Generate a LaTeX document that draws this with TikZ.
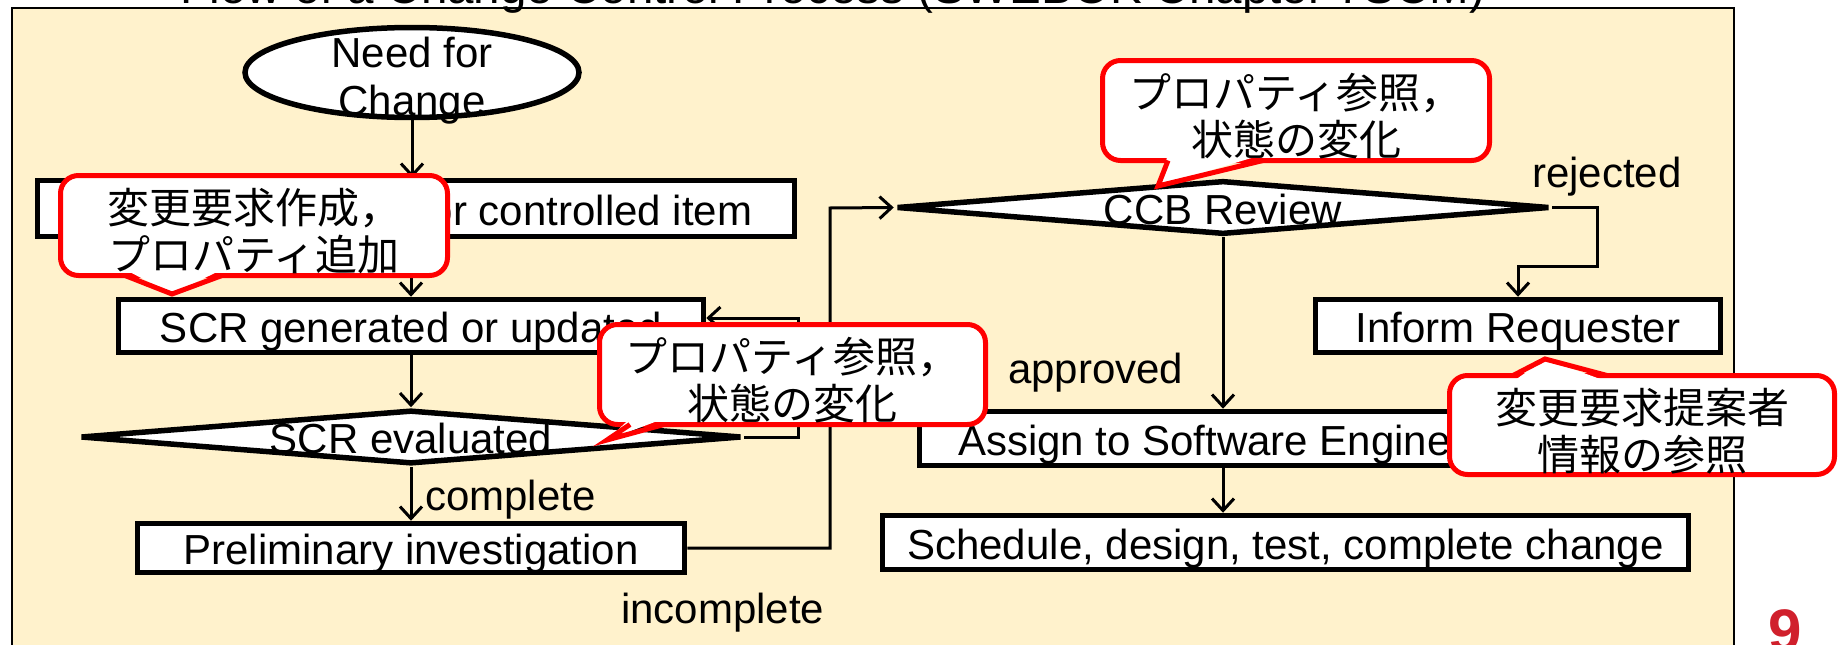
\documentclass[tikz,border=0pt]{standalone}
\usepackage{fontspec}
\setmainfont{Liberation Sans}
\newfontfamily\jpfont{Noto Sans CJK JP}
\usetikzlibrary{arrows.meta,shapes.geometric}
\definecolor{bgyel}{HTML}{FFF2CC}
\definecolor{pgred}{RGB}{208,32,44}
\definecolor{calred}{RGB}{255,0,0}
\newcommand{\myfs}[2]{\fontsize{#1}{#2}\selectfont}
\begin{document}
\begin{tikzpicture}[x=1pt,y=-1pt,
  box/.style={draw, line width=5.5pt, fill=white, inner sep=0pt, font=\myfs{42}{48}, text height=36pt, text depth=3pt},
  dia/.style={diamond, draw, line width=5.5pt, fill=white, inner sep=0pt},
  txt/.style={inner sep=0pt, font=\myfs{42}{48}, text height=36pt, text depth=3pt},
  lbl/.style={inner sep=0pt, font=\myfs{42}{48}},
  arr/.style={line width=3pt, -{Straight Barb[length=12pt,width=22pt]}},
  callout/.style={draw=calred, line width=5pt, fill=white, rounded corners=18pt, inner sep=0pt},
  caltext/.style={inner sep=0pt, align=center, font=\jpfont\myfs{42}{47}},
  wedgeline/.style={draw=calred, line width=5pt, line join=miter},
]
\useasboundingbox (0,0) rectangle (1839,645);
% frame
\draw[fill=bgyel, line width=2.5pt] (12,8) rectangle (1734,665);
\node[anchor=base, inner sep=0pt, font=\myfs{47.5}{50}] (title) at (833,4) {Flow of a Change Control Process (SWEBOK Chapter 7SCM)};
\node[anchor=base, inner sep=0pt, text=pgred, font=\bfseries\myfs{60}{60}] (pg) at (1785,651) {9};

% left column
\node[ellipse, draw, line width=5.5pt, fill=white, inner sep=0pt, minimum width=334pt, minimum height=90pt] (need) at (412,72.5) {};
\node[inner sep=0pt, align=center, font=\myfs{42}{48}] (needt) at (412,81) {Need for\\Change};
\node[box, minimum width=757pt, minimum height=56pt] (b1) at (416,208.5) {Change identified for controlled item};
\node[box, minimum width=585pt, minimum height=53pt] (b2) at (411,326) {SCR generated or updated};
\node[dia, minimum width=661pt, minimum height=54pt] (d1) at (411,437) {};
\node[txt] (d1t) at (d1) {SCR evaluated};
\node[box, minimum width=547pt, minimum height=49pt] (p1) at (411,548) {Preliminary investigation};

% right column
\node[dia, minimum width=653pt, minimum height=54pt] (ccb) at (1223,207.5) {};
\node[txt] (ccbt) at (ccb) {CCB Review};
\node[box, minimum width=405pt, minimum height=53pt] (inf) at (1518,326) {Inform Requester};
\node[box, minimum width=607pt, minimum height=54pt] (as) at (1223,438.5) {Assign to Software Engineer};
\node[box, minimum width=806pt, minimum height=54pt] (sc) at (1285.5,542.5) {Schedule, design, test, complete change};

% junctions
\coordinate (jA) at (830,208);
\coordinate (jB) at (798,318);
\coordinate (jC) at (1597,266);

% connectors
\draw[arr] (need.south) -- (need.south |- b1.north);
\draw[arr] (b1.south -| b2.north) -- (b2.north);
\draw[arr] (b2.south) -- (d1.north);
\draw[arr] (d1.south) -- (p1.north);
\draw[arr] (d1.east) -| (jB) -- ([yshift=8pt]b2.east);
\draw[arr] (p1.east) -| (jA) -- (ccb.west);
\draw[arr] (ccb.south) -- (as.north);
\draw[arr] (as.south) -- (as.south |- sc.north);
\draw[arr] (ccb.east) -| (jC) -| (inf.north);

% labels
\node[lbl, anchor=base west] (lcomp) at (425,510) {complete};
\node[lbl, anchor=base west] (linc) at (621,623) {incomplete};
\node[lbl, anchor=base west] (lapp) at (1008,383) {approved};
\node[lbl, anchor=base west] (lrej) at (1532,187) {rejected};

% callout 1
\node[callout, minimum width=387pt, minimum height=100pt] (c1) at (254,225.5) {};
\coordinate (c1a) at (125,275.5); \coordinate (c1b) at (222,275.5); \coordinate (c1t) at (172,294);
\fill[white] ([yshift=6pt]c1a) -- (c1t) -- ([yshift=6pt]c1b) -- cycle;
\draw[wedgeline] (c1a) -- (c1t) -- (c1b);
\node[caltext] (c1x) at ([yshift=-6pt]c1.center) {変更要求作成，\\プロパティ追加};

% callout 2
\node[callout, minimum width=386pt, minimum height=100pt] (c2) at (792.5,374.5) {};
\coordinate (c2a) at (630,424.5); \coordinate (c2b) at (664,424.5); \coordinate (c2t) at (607,440);
\fill[white] ([yshift=6pt]c2a) -- (c2t) -- ([yshift=6pt]c2b) -- cycle;
\draw[wedgeline] (c2b) -- (c2t) -- (c2a);
\node[caltext] (c2x) at ([yshift=-6pt]c2.center) {プロパティ参照，\\状態の変化};

% callout 3
\node[callout, minimum width=387pt, minimum height=100pt] (c3) at (1296,110.5) {};
\coordinate (c3a) at (1168,160.5); \coordinate (c3b) at (1263,160.5); \coordinate (c3t) at (1158,186);
\fill[white] ([yshift=6pt]c3a) -- (c3t) -- ([yshift=6pt]c3b) -- cycle;
\draw[wedgeline] (c3a) -- (c3t) -- (c3b);
\node[caltext] (c3x) at ([yshift=-6pt]c3.center) {プロパティ参照，\\状態の変化};

% callout 4
\node[callout, minimum width=385pt, minimum height=99pt] (c4) at (1642,425) {};
\coordinate (c4a) at (1513,375.5); \coordinate (c4b) at (1607,375.5); \coordinate (c4t) at (1545,359);
\fill[white] ([yshift=-6pt]c4a) -- (c4t) -- ([yshift=-6pt]c4b) -- cycle;
\draw[wedgeline] (c4a) -- (c4t) -- (c4b);
\node[caltext] (c4x) at ([yshift=-6pt]c4.center) {変更要求提案者\\情報の参照};
\end{tikzpicture}
\end{document}
